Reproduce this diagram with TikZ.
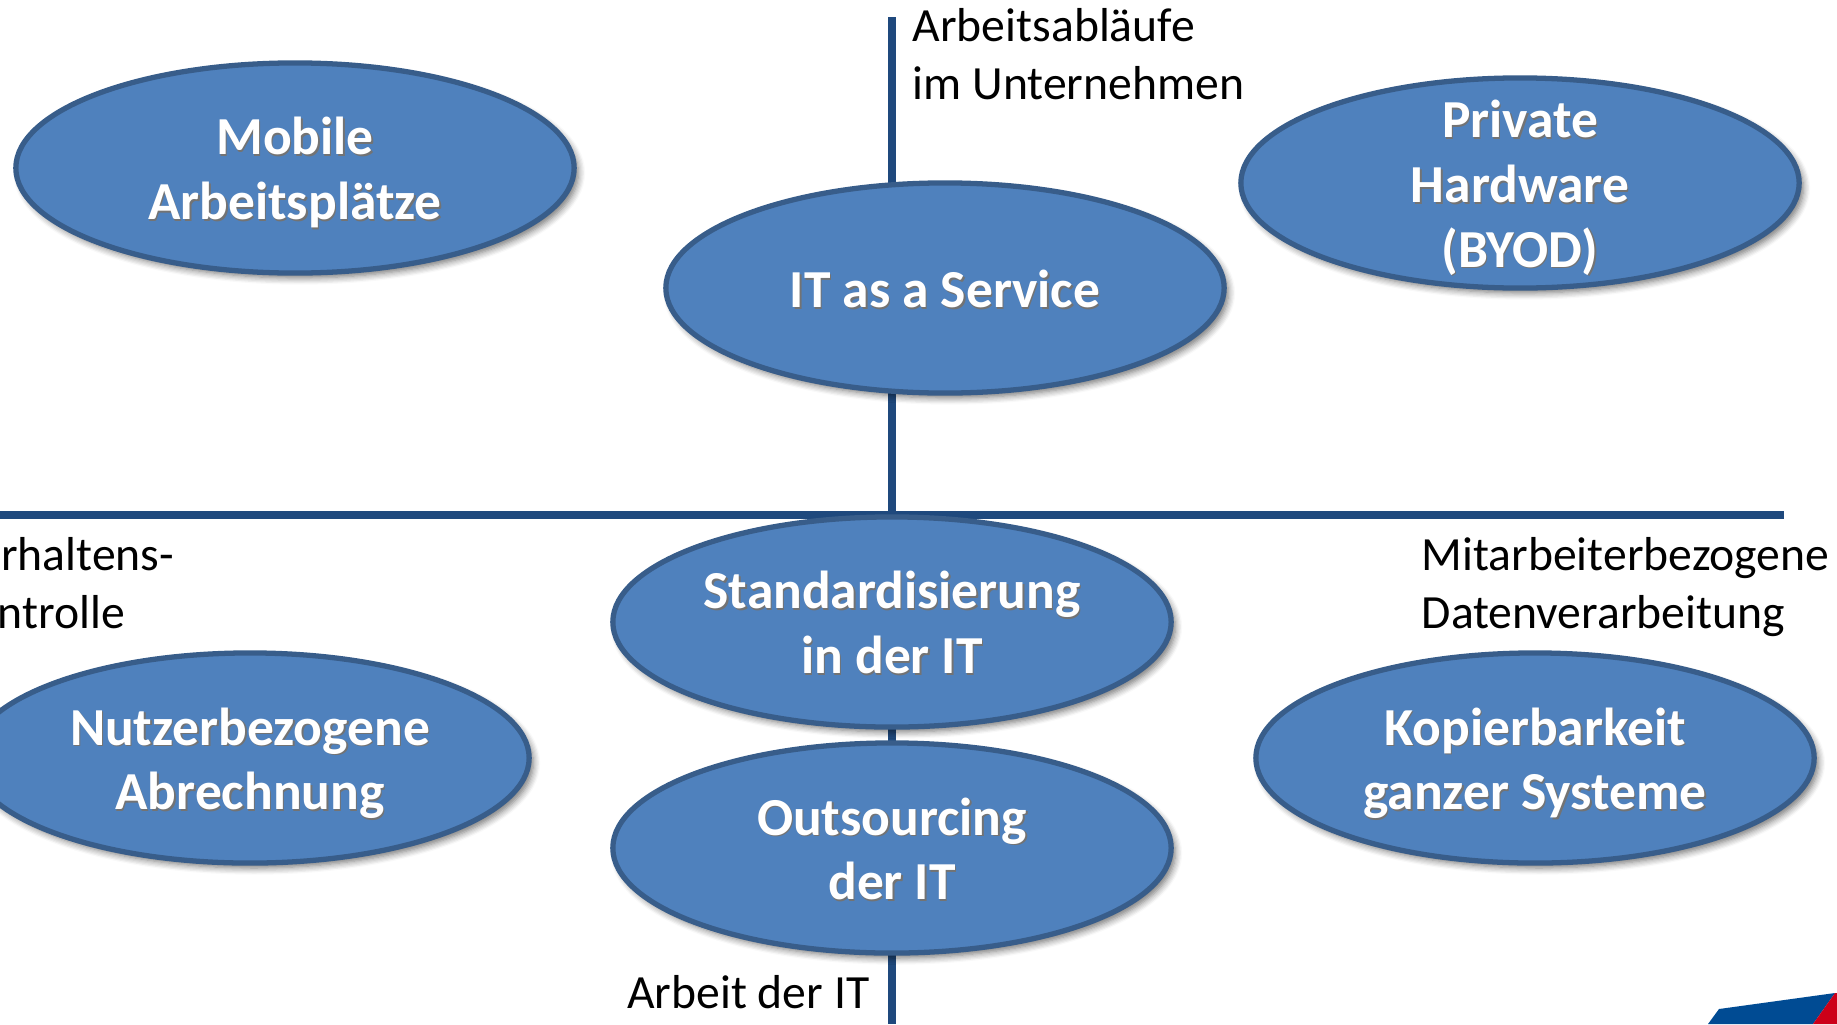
\documentclass[tikz,border=0pt]{standalone}
\usepackage{fontspec}
\setmainfont{Carlito}
\usetikzlibrary{shapes.geometric,shadows.blur}
\definecolor{axisblue}{HTML}{1F497D}
\definecolor{topicfill}{HTML}{4F81BD}
\definecolor{topicline}{HTML}{385D8A}
\definecolor{logoblue}{HTML}{004B93}
\definecolor{logored}{HTML}{CC0019}
\newcommand{\shtext}[1]{\leavevmode\rule[-3.7pt]{0pt}{18.4pt}\rlap{\raisebox{-0.5pt}{\kern0.4pt\textcolor{black!55}{#1}}}#1}
\tikzset{
  {axis/.style} ={draw=axisblue,line width=2.2pt},
  {topic/.style} ={ellipse,draw=topicline,line width=1.5pt,fill=topicfill,
                  inner sep=0,minimum width=5.58cm,minimum height=2.10cm,
                  text=white,align=center,font=\fontsize{15.2}{18.4}\selectfont\bfseries,
                  blur shadow={shadow xshift=1.2pt,shadow yshift=-1.4pt,shadow blur steps=6,shadow opacity=55}},
  {caption/.style} ={inner sep=0,align=left,font=\fontsize{13.55}{16.4}\selectfont},
}
\begin{document}
\begin{tikzpicture}[x=0.01cm,y=-0.01cm]
\useasboundingbox (0,0) rectangle (1837,1024);
\clip (0,0) rectangle (1837,1024);
% axes
\coordinate (axtop) at (892,17);
\coordinate (axbot) at (892,1024);
\coordinate (axleft) at (0,515);
\coordinate (axright) at (1784,515);
\draw[axis] (axtop) -- (axbot);
\draw[axis,line width=2.5pt] (axleft) -- (axright);
% corner of the logo
\fill[logoblue] (1708,1024) -- (1719,1009) -- (1835,993) -- (1813,1024) -- cycle;
\fill[logored] (1835,993) -- (1837,993) -- (1837,1024) -- (1813,1024) -- cycle;
% topics
\node[topic] (mobile) at (295,168) {\shtext{Mobile}\\\shtext{Arbeitsplätze}};
\node[topic,inner sep=-12pt] (byod) at (1520,183) {\shtext{Private}\\\shtext{Hardware}\\\shtext{(BYOD)}};
\node[topic] (itaas) at (945,288) {\shtext{IT as a Service}};
\node[topic] (standard) at (892,622) {\shtext{Standardisierung}\\\shtext{in der IT}};
\node[topic] (outsourcing) at (892,848) {\shtext{Outsourcing}\\\shtext{der IT}};
\node[topic] (billing) at (250,758) {\shtext{Nutzerbezogene}\\\shtext{Abrechnung}};
\node[topic] (copy) at (1535,758) {\shtext{Kopierbarkeit}\\\shtext{ganzer Systeme}};
% axis captions
\node[caption,anchor=north west] (work) at (912,8) {Arbeitsabläufe\\im Unternehmen};
\node[caption,anchor=north west] (control) at (-3,537) {\hspace*{1pt}rhaltens-\\ntrolle};
\node[caption,anchor=north west] (data) at (1421,537) {Mitarbeiterbezogene\\Datenverarbeitung};
\node[caption,anchor=north east] (itwork) at (870,975) {Arbeit der IT};
\end{tikzpicture}
\end{document}
